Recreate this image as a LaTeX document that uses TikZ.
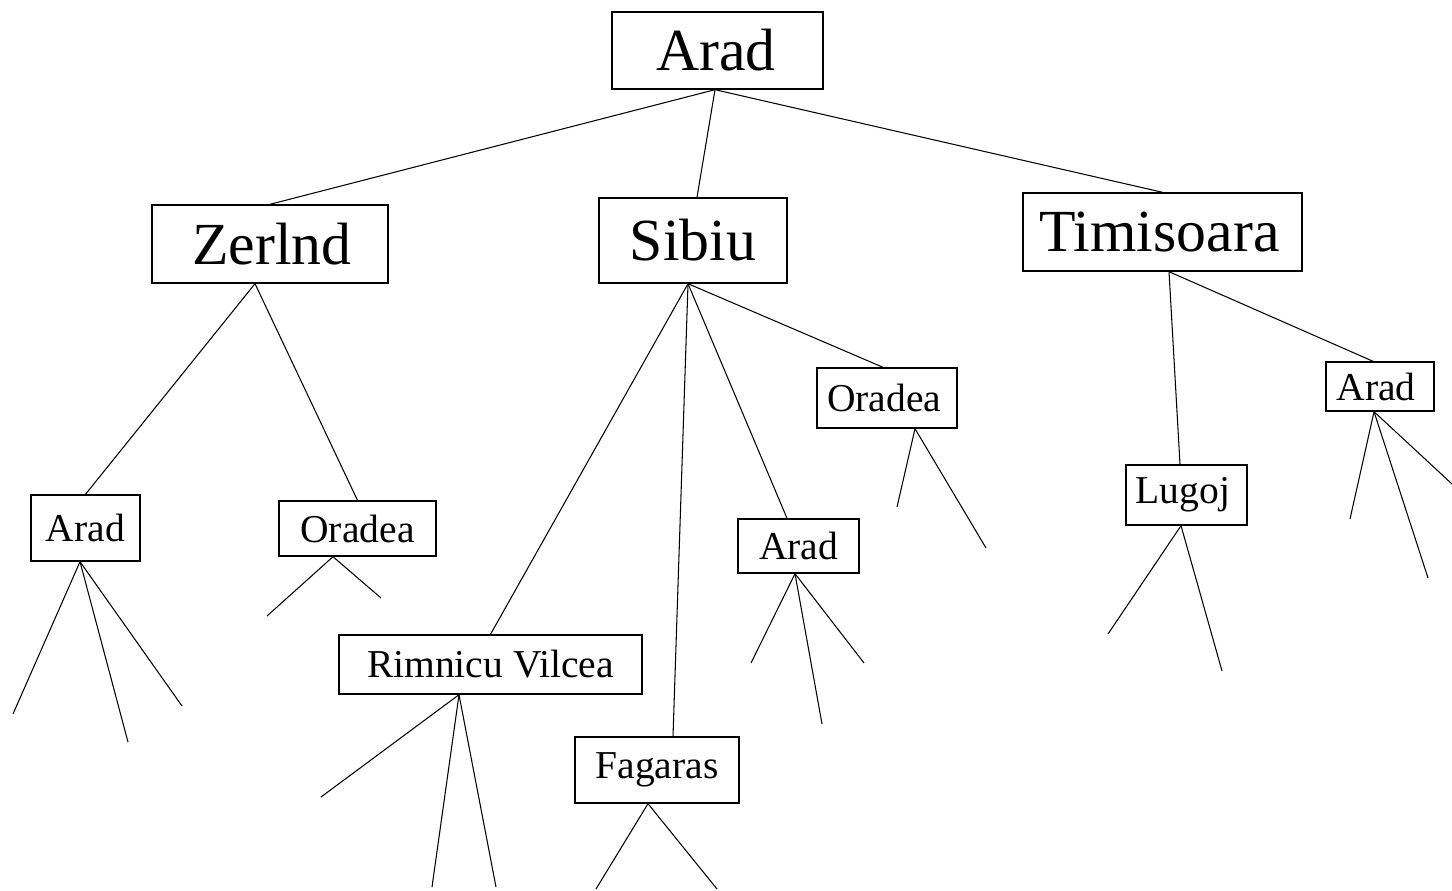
\documentclass[tikz,border=0pt]{standalone}
\usepackage{fontspec}
\setmainfont{Liberation Serif}
\begin{document}
\begin{tikzpicture}[x=0.02cm,y=-0.02cm,
  bigbox/.style={draw,line width=0.8pt,inner sep=0pt,font=\fontsize{34}{40}\selectfont},
  smallbox/.style={draw,line width=0.8pt,inner sep=0pt,font=\fontsize{22.5}{27}\selectfont},
  edge/.style={line width=0.6pt}]
\useasboundingbox (0,0) rectangle (1452,891);
% level 0
\node[bigbox,minimum width=4.22cm,minimum height=1.54cm] (arad0) at (717.5,50.5) {Arad\hspace*{0.07cm}};
% level 1
\node[bigbox,minimum width=4.72cm,minimum height=1.56cm] (zer) at (270,244) {\hspace*{0.08cm}Zerlnd};
\node[bigbox,minimum width=3.76cm,minimum height=1.70cm] (sib) at (693,240.5) {Sibiu};
\node[bigbox,minimum width=5.58cm,minimum height=1.56cm] (tim) at (1162.5,232) {Timisoara\hspace*{0.12cm}};
% level 2
\node[smallbox,minimum width=2.18cm,minimum height=1.32cm] (aradZ) at (85.5,528) {Arad};
\node[smallbox,minimum width=3.14cm,minimum height=1.10cm] (oraZ) at (357.5,528.5) {Oradea};
\node[smallbox,minimum width=6.06cm,minimum height=1.18cm] (rim) at (490.5,664.5) {Rimnicu Vilcea};
\node[smallbox,minimum width=3.28cm,minimum height=1.32cm] (fag) at (657,770) {Fagaras};
\node[smallbox,minimum width=2.42cm,minimum height=1.08cm] (aradS) at (798.5,546) {Arad};
\node[smallbox,minimum width=2.80cm,minimum height=1.20cm] (oraS) at (887,398) {Oradea\hspace*{0.11cm}};
\node[smallbox,minimum width=2.42cm,minimum height=1.20cm] (lug) at (1186.5,495) {Lugoj\hspace*{0.14cm}};
\node[smallbox,minimum width=2.16cm,minimum height=0.98cm] (aradT) at (1380,386.5) {Arad\hspace*{0.16cm}};
% leaf ends
\coordinate (l1) at (13,714);
\coordinate (l2) at (128,742);
\coordinate (l3) at (182,706);
\coordinate (l4) at (267,616);
\coordinate (l5) at (381,598);
\coordinate (l6) at (321,797);
\coordinate (l7) at (432,887);
\coordinate (l8) at (496,887);
\coordinate (l9) at (596,889);
\coordinate (l10) at (717,889);
\coordinate (l11) at (751,663);
\coordinate (l12) at (822,724);
\coordinate (l13) at (864,663);
\coordinate (l14) at (897,507);
\coordinate (l15) at (986,548);
\coordinate (l16) at (1108,634);
\coordinate (l17) at (1222,671);
\coordinate (l18) at (1350,519);
\coordinate (l19) at (1428,578);
\coordinate (l20) at (1452,484);
% connectors
\draw[edge] ([xshift=-0.05cm]arad0.south) -- (zer.north);
\draw[edge] ([xshift=-0.05cm]arad0.south) -- ([xshift=0.08cm]sib.north);
\draw[edge] ([xshift=-0.05cm]arad0.south) -- (tim.north);
\draw[edge] ([xshift=-0.3cm]zer.south) -- (aradZ.north);
\draw[edge] ([xshift=-0.3cm]zer.south) -- (oraZ.north);
\draw[edge] ([xshift=-0.1cm]sib.south) -- (rim.north);
\draw[edge] ([xshift=-0.1cm]sib.south) -- ([xshift=0.32cm]fag.north);
\draw[edge] ([xshift=-0.1cm]sib.south) -- ([xshift=-0.23cm]aradS.north);
\draw[edge] ([xshift=-0.1cm]sib.south) -- ([xshift=-0.08cm]oraS.north);
\draw[edge] ([xshift=0.13cm]tim.south) -- ([xshift=-0.13cm]lug.north);
\draw[edge] ([xshift=0.13cm]tim.south) -- ([xshift=-0.14cm]aradT.north);
\foreach \l in {l1,l2,l3} \draw[edge] ([xshift=-0.11cm]aradZ.south) -- (\l);
\foreach \l in {l4,l5} \draw[edge] ([xshift=-0.49cm]oraZ.south) -- (\l);
\foreach \l in {l6,l7,l8} \draw[edge] ([xshift=-0.63cm]rim.south) -- (\l);
\foreach \l in {l9,l10} \draw[edge] ([xshift=-0.18cm]fag.south) -- (\l);
\foreach \l in {l11,l12,l13} \draw[edge] ([xshift=-0.07cm]aradS.south) -- (\l);
\foreach \l in {l14,l15} \draw[edge] ([xshift=0.56cm]oraS.south) -- (\l);
\foreach \l in {l16,l17} \draw[edge] ([xshift=-0.11cm]lug.south) -- (\l);
\foreach \l in {l18,l19,l20} \draw[edge] ([xshift=-0.12cm]aradT.south) -- (\l);
\end{tikzpicture}
\end{document}
